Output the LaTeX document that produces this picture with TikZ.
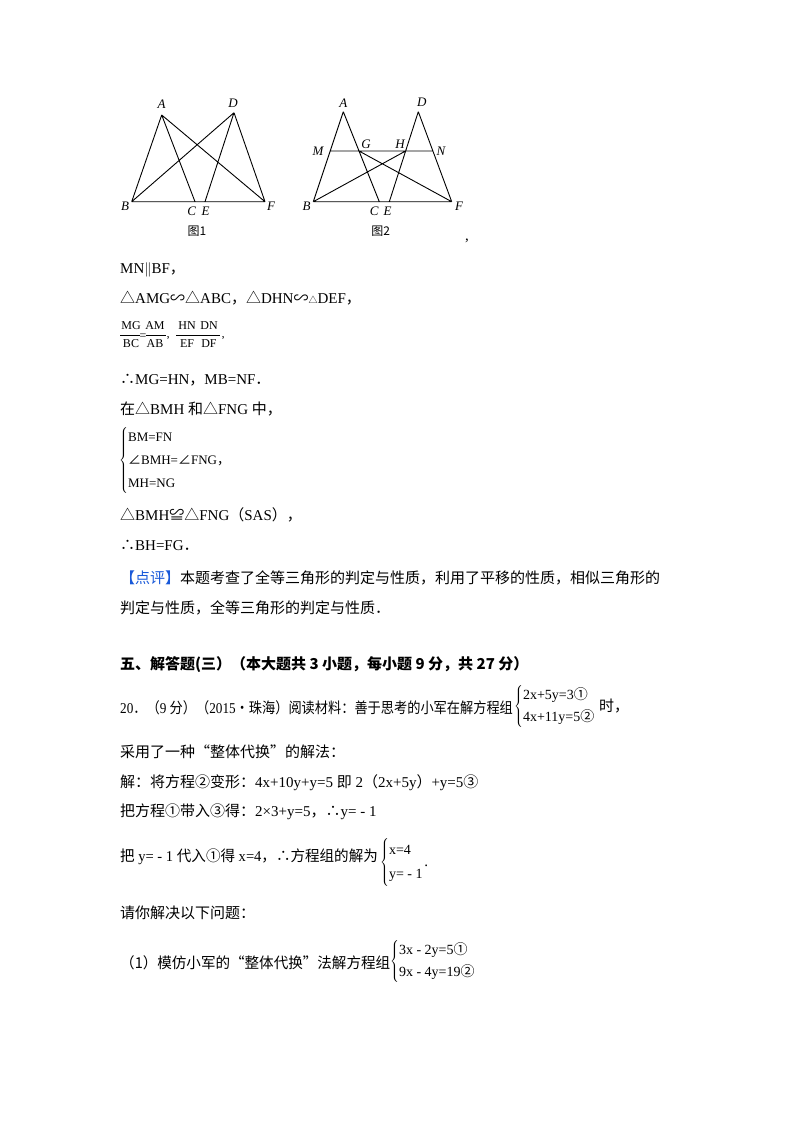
\documentclass[tikz,border=0pt]{standalone}
\usepackage{fontspec}
\setmainfont{Liberation Serif}
\newfontfamily\cjk{Noto Sans CJK SC}
\begin{document}
\begin{tikzpicture}[x=1pt,y=-1pt,
  ln/.style={line width=0.9pt},
  lab/.style={font=\fontsize{13}{13}\selectfont\itshape, inner sep=0pt},
  tx/.style={anchor=base west, inner sep=0pt, font=\fontsize{15}{15}\selectfont},
  sm/.style={anchor=west, inner sep=0pt, font=\fontsize{14}{17}\selectfont}]
\useasboundingbox[fill=white] (0,0) rectangle (800,1132);
% Figure 1
\coordinate (A) at (161.7,115); \coordinate (D) at (234,112.7);
\coordinate (B) at (131.7,201.7); \coordinate (C) at (195,201.7);
\coordinate (E) at (205,201.7); \coordinate (F) at (265,201.7);
\draw[ln] (A)--(B) (A)--(C) (A)--(F) (D)--(B) (D)--(E) (D)--(F) (B)--(F);
\node[lab] (lA) at (161.7,104) {A}; \node[lab] (lD) at (233,103) {D};
\node[lab] (lB) at (125,206.7) {B}; \node[lab] (lC) at (191.7,211) {C};
\node[lab] (lE) at (205.7,211) {E}; \node[lab] (lF) at (271,206.7) {F};
\node[inner sep=0pt,font=\fontsize{12}{12}\cjk] (t1) at (197,231.7) {图1};
% Figure 2
\coordinate (A2) at (343.3,111.7); \coordinate (D2) at (418.3,111.7);
\coordinate (B2) at (313.3,201.7); \coordinate (C2) at (379.3,201.7);
\coordinate (E2) at (389.3,201.7); \coordinate (F2) at (451.7,201.7);
\coordinate (M2) at (330.2,151); \coordinate (N2) at (432.9,151);
\coordinate (G2) at (359,151); \coordinate (H2) at (405.6,151);
\draw[ln] (A2)--(B2) (A2)--(C2) (D2)--(E2) (D2)--(F2) (B2)--(F2) (M2)--(N2) (G2)--(F2) (B2)--(H2);
\node[lab] (lA2) at (343.3,103) {A}; \node[lab] (lD2) at (421.7,102.7) {D};
\node[lab] (lB2) at (306.7,206.7) {B}; \node[lab] (lC2) at (374.3,211) {C};
\node[lab] (lE2) at (387.7,211) {E}; \node[lab] (lF2) at (459,206.7) {F};
\node[lab] (lM2) at (318,151) {M}; \node[lab] (lG2) at (366,144) {G};
\node[lab] (lH2) at (400,144) {H}; \node[lab] (lN2) at (441,151.7) {N};
\node[inner sep=0pt,font=\fontsize{12}{12}\cjk] (t2) at (380.7,231.7) {图2};
\node[tx] (cm) at (465,240) {,};
% Text
\node[tx] (l1) at (120,273) {MN$\|$BF{\cjk ，}};
\node[tx] (l2) at (120,303) {{\cjk △}AMG{\cjk ∽△}ABC{\cjk ，△}DHN{\cjk ∽}{\cjk\fontsize{9}{9}\selectfont △}DEF{\cjk ，}};
% fractions
\begin{scope}[every node/.style={inner sep=0pt,font=\fontsize{12}{12}\selectfont}]
\node (f1) at (131,326) {MG}; \node (f2) at (131,344) {BC};
\node (f3) at (155,326) {AM}; \node (f4) at (155,344) {AB};
\node (f5) at (187,326) {HN}; \node (f6) at (187,344) {EF};
\node (f7) at (209,326) {DN}; \node (f8) at (209,344) {DF};
\node (fe) at (143,337) {=};
\node (fc1) at (168,341) {’}; \node (fc2) at (223,341) {’};
\end{scope}
\draw[line width=0.5pt] (120,335) -- (140,335) (146,335) -- (166,335) (176,335) -- (220,335);
\node[tx] (l3) at (120,384) {{\cjk ∴}MG=HN{\cjk ，}MB=NF{\cjk ．}};
\node[tx] (l4) at (120,414) {{\cjk 在△}BMH {\cjk 和△}FNG {\cjk 中，}};
\node[sm, font=\fontsize{13}{16}\selectfont] (l5) at (119,460) {\renewcommand\arraystretch{1.45}$\left\{\begin{tabular}{@{}l@{}}BM=FN\\{\cjk ∠}BMH={\cjk ∠}FNG{\cjk ，}\\MH=NG\end{tabular}\right.$};
\node[tx] (l6) at (120,520) {{\cjk △}BMH{\cjk ≌△}FNG{\cjk （}SAS{\cjk ），}};
\node[tx] (l7) at (120,550) {{\cjk ∴}BH=FG{\cjk ．}};
\node[tx,font=\fontsize{15}{15}\cjk] (l8) at (120,583) {\textcolor[rgb]{0.1,0.35,0.85}{【点评】}本题考查了全等三角形的判定与性质，利用了平移的性质，相似三角形的};
\node[tx,font=\fontsize{15}{15}\cjk] (l9) at (120,613) {判定与性质，全等三角形的判定与性质．};
\node[tx,font=\fontsize{15}{15}\cjk\bfseries] (h) at (120,669) {五、解答题(三）（本大题共 3 小题，每小题 9 分，共 27 分）};
\node[tx] (q20) at (120,713) {\scalebox{0.88}[1]{20{\cjk ．（}9 {\cjk 分）（}2015{\cjk •珠海）阅读材料：善于思考的小军在解方程组}}};
\node[sm] (s1) at (514,706) {\renewcommand\arraystretch{1.3}$\left\{\begin{tabular}{@{}l@{}}2x+5y=3{\cjk ①}\\4x+11y=5{\cjk ②}\end{tabular}\right.$};
\node[tx,font=\fontsize{15}{15}\cjk] (shi) at (599,711) {时，};
\node[tx,font=\fontsize{15}{15}\cjk] (l10) at (120,757) {采用了一种“整体代换”的解法：};
\node[tx] (l11) at (120,787) {{\cjk 解：将方程②变形：}4x+10y+y=5 {\cjk 即} 2{\cjk （}2x+5y{\cjk ）}+y=5{\cjk ③}};
\node[tx] (l12) at (120,816) {{\cjk 把方程①带入③得：}2×3+y=5{\cjk ，∴}y= - 1};
\node[tx] (l13) at (120,861) {\scalebox{0.97}[1]{{\cjk 把} y= - 1 {\cjk 代入①得} x=4{\cjk ，∴方程组的解为}}};
\node[sm] (s2) at (380,862) {\renewcommand\arraystretch{1.4}$\left\{\begin{tabular}{@{}l@{}}x=4\\y= - 1\end{tabular}\right.$};
\node[tx] (dot) at (s2.east) [anchor=west,yshift=-4] {.};
\node[tx,font=\fontsize{15}{15}\cjk] (l14) at (120,918) {请你解决以下问题：};
\node[tx,font=\fontsize{15}{15}\cjk] (l15) at (120,968) {\scalebox{0.97}[1]{（1）模仿小军的“整体代换”法解方程组}};
\node[sm] (s3) at (390,961) {\renewcommand\arraystretch{1.3}$\left\{\begin{tabular}{@{}l@{}}3x - 2y=5{\cjk ①}\\9x - 4y=19{\cjk ②}\end{tabular}\right.$};
\end{tikzpicture}
\end{document}
